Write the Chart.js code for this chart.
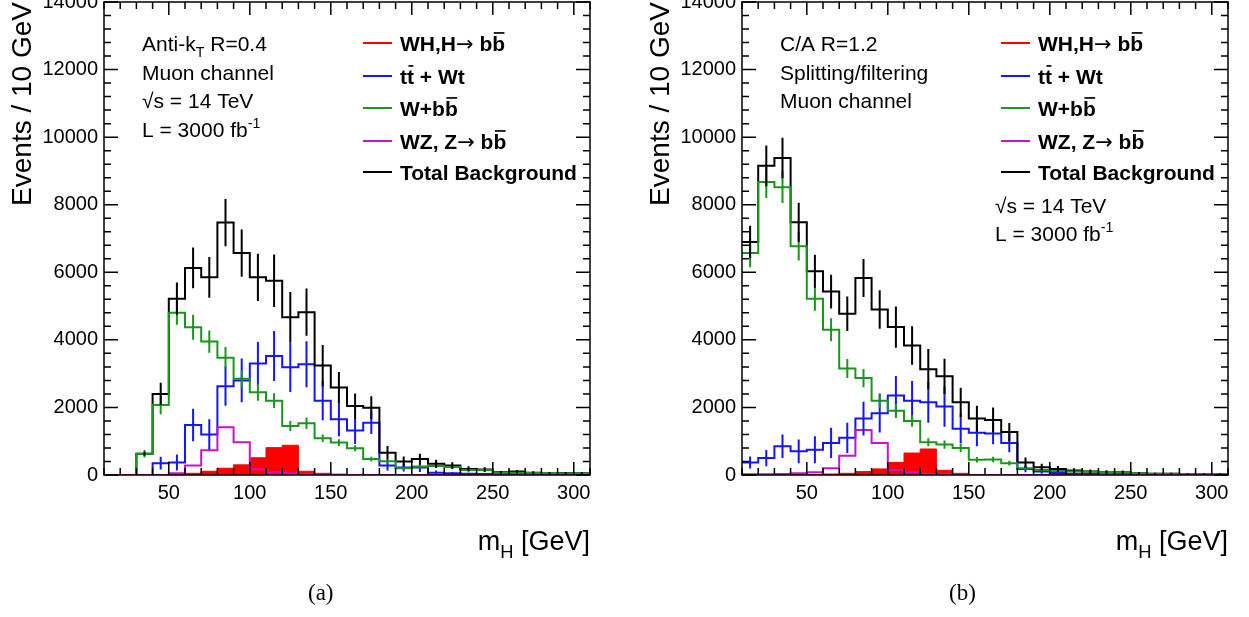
<!DOCTYPE html>
<html>
<head>
<meta charset="utf-8">
<script src="https://cdn.jsdelivr.net/npm/chart.js@4.4.1/dist/chart.umd.min.js"></script>
<style>
body { margin:0; background:#fff; width:1249px; height:617px; overflow:hidden; position:relative; }
canvas { position:absolute; top:0; }
#ca { left:0; }
#cb { left:638px; }
.cap { position:absolute; top:580px; font-family:'Liberation Serif', serif; font-size:23px; color:#000; }
</style>
</head>
<body>
<canvas id="ca" width="640" height="617" style="width:640px;height:617px"></canvas>
<canvas id="cb" width="611" height="617" style="width:611px;height:617px"></canvas>
<div class="cap" style="left:308px">(a)</div>
<div class="cap" style="left:949px">(b)</div>
<script>
const FONT = "'Liberation Sans', Arial, sans-serif";

// bin low edges, 10 GeV bins
const binLow = [10, 20, 30, 40, 50, 60, 70, 80, 90, 100, 110, 120, 130, 140, 150,
                160, 170, 180, 190, 200, 210, 220, 230, 240, 250, 260, 270, 280, 290, 300];
const binWidth = 10;
const xTicks = [50, 100, 150, 200, 250, 300];
const yTicks = [0, 2000, 4000, 6000, 8000, 10000, 12000, 14000];

// (a) Anti-kT R=0.4
const aSignal = [0, 0, 0, 0, 40, 50, 110, 200, 300, 510, 810, 880, 110, 50, 20, 10, 0, 0, 0, 0, 0, 0, 0, 0, 0, 0, 0, 0, 0, 0];
const aTop    = [0, 0, 0, 350, 370, 1480, 1200, 2630, 2800, 3300, 3520, 3190, 3280, 2200, 1650, 1320, 1550, 280, 220, 220, 70, 50, 40, 30, 20, 40, 20, 10, 10, 10];
const aWbb    = [0, 0, 630, 2070, 4800, 4370, 3950, 3470, 2850, 2450, 2200, 1450, 1530, 1090, 960, 790, 470, 410, 200, 250, 270, 240, 150, 150, 70, 70, 60, 60, 50, 50];
const aWZ     = [0, 0, 0, 0, 50, 280, 730, 1410, 970, 170, 80, 50, 30, 20, 10, 0, 0, 0, 0, 0, 0, 0, 0, 0, 0, 0, 0, 0, 0, 0];
const aTotal  = [0, 0, 630, 2400, 5220, 6130, 5850, 7470, 6570, 5850, 5750, 4670, 4820, 3240, 2590, 2040, 1990, 660, 400, 470, 330, 280, 180, 160, 80, 100, 70, 60, 60, 50];
const aTotalErr = [0, 0, 60, 330, 480, 600, 600, 700, 700, 700, 780, 750, 700, 610, 460, 370, 340, 200, 150, 160, 120, 100, 80, 70, 40, 50, 40, 30, 30, 30];
const aTopErr   = [0, 0, 0, 190, 240, 480, 450, 580, 650, 640, 740, 730, 680, 580, 500, 400, 340, 150, 120, 130, 60, 40, 30, 30, 20, 30, 20, 10, 10, 10];
const aWbbErr   = [0, 0, 110, 270, 350, 370, 330, 320, 250, 250, 220, 150, 170, 110, 100, 90, 70, 70, 50, 50, 50, 50, 40, 40, 30, 30, 30, 30, 20, 20];

// (b) C/A R=1.2 splitting/filtering
const bSignal = [0, 0, 0, 10, 20, 30, 50, 100, 180, 370, 650, 770, 140, 50, 10, 0, 0, 0, 0, 0, 0, 0, 0, 0, 0, 0, 0, 0, 0, 0];
const bTop    = [370, 500, 850, 700, 750, 950, 1100, 1670, 1830, 2350, 2200, 2150, 2030, 1370, 1250, 1230, 950, 180, 100, 60, 40, 30, 20, 20, 10, 10, 10, 0, 0, 0];
const bWbb    = [6570, 8670, 8520, 6770, 5220, 4300, 3150, 2870, 2200, 1900, 1600, 970, 900, 800, 450, 460, 350, 200, 150, 120, 100, 100, 90, 80, 50, 40, 40, 30, 30, 30];
const bWZ     = [20, 20, 30, 50, 80, 200, 570, 1330, 950, 150, 80, 30, 20, 10, 0, 0, 0, 0, 0, 0, 0, 0, 0, 0, 0, 0, 0, 0, 0, 0];
const bTotal  = [6900, 9150, 9380, 7480, 6030, 5430, 4770, 5830, 4900, 4380, 3830, 3130, 2920, 2150, 1670, 1630, 1270, 370, 230, 180, 130, 100, 90, 80, 50, 40, 40, 30, 30, 30];
const bTotalErr = [480, 600, 600, 580, 490, 500, 510, 560, 570, 610, 570, 600, 520, 430, 380, 370, 270, 150, 100, 90, 70, 60, 50, 50, 30, 30, 30, 20, 20, 20];
const bTopErr   = [180, 240, 350, 350, 400, 450, 450, 500, 570, 580, 580, 600, 600, 440, 400, 320, 280, 100, 60, 40, 30, 20, 20, 20, 10, 10, 10, 0, 0, 0];
const bWbbErr   = [420, 470, 470, 420, 360, 340, 280, 270, 220, 210, 170, 120, 120, 120, 80, 80, 70, 50, 40, 40, 30, 30, 30, 30, 20, 20, 20, 20, 20, 20];

const colors = { signal: '#ff0000', top: '#1414ff', wbb: '#1a961a', wz: '#cc11cc', total: '#000000' };

const ARROW = {t: '\u2192', w: 'normal', f: "'DejaVu Sans', sans-serif"};
const legendParts = [
  [{t: 'WH,H'}, ARROW, {t: ' b'}, {t: 'b', over: true}],
  [{t: 't'}, {t: 't', over: true}, {t: ' + Wt'}],
  [{t: 'W+b'}, {t: 'b', over: true}],
  [{t: 'WZ, Z'}, ARROW, {t: ' b'}, {t: 'b', over: true}],
  [{t: 'Total Background'}]
];

function toPoints(values) {
  const pts = binLow.map((x, i) => ({x: x, y: values[i]}));
  pts.push({x: binLow[binLow.length - 1] + binWidth, y: values[values.length - 1]});
  return pts;
}

function hist(values, color, extra) {
  return Object.assign({
    data: toPoints(values),
    borderColor: color,
    backgroundColor: color,
    borderWidth: 2,
    pointRadius: 0,
    stepped: true,
    fill: false
  }, extra);
}

function drawRich(ctx, x, y, parts, size, weight, draw) {
  let cx = x;
  parts.forEach(p => {
    const small = p.sub || p.sup;
    const s = small ? size * 0.68 : size;
    ctx.font = (p.w || weight) + ' ' + s + 'px ' + (p.f || FONT);
    const dy = p.sub ? size * 0.3 : (p.sup ? -size * 0.45 : 0);
    const w = ctx.measureText(p.t).width;
    if (draw) {
      ctx.fillText(p.t, cx, y + dy);
      if (p.over) {
        ctx.beginPath();
        ctx.lineWidth = size * 0.08;
        ctx.moveTo(cx + size * 0.07, y - size * 0.86);
        ctx.lineTo(cx + w - size * 0.03, y - size * 0.86);
        ctx.stroke();
      }
    }
    cx += w;
  });
  return cx - x;
}

// ROOT-like frame with inward ticks
const frameTicks = {
  id: 'frameTicks',
  afterDraw(chart) {
    const {ctx, chartArea: a, scales: {x, y}} = chart;
    ctx.save();
    ctx.strokeStyle = '#000';
    ctx.lineWidth = 1.5;
    ctx.strokeRect(a.left, a.top, a.right - a.left, a.bottom - a.top);
    ctx.beginPath();
    for (let v = x.min; v <= x.max; v += 10) {
      const px = x.getPixelForValue(v);
      const len = v % 50 === 0 ? 13 : 7;
      ctx.moveTo(px, a.bottom); ctx.lineTo(px, a.bottom - len);
      ctx.moveTo(px, a.top); ctx.lineTo(px, a.top + len);
    }
    for (let v = y.min; v <= y.max; v += 400) {
      const py = y.getPixelForValue(v);
      const len = v % 2000 === 0 ? 14 : 7;
      ctx.moveTo(a.left, py); ctx.lineTo(a.left + len, py);
      ctx.moveTo(a.right, py); ctx.lineTo(a.right - len, py);
    }
    ctx.stroke();
    ctx.restore();
  }
};

// vertical error bars at bin centres
const errorBars = {
  id: 'errorBars',
  afterDatasetsDraw(chart) {
    const {ctx, chartArea: a, scales: {x, y}} = chart;
    ctx.save();
    ctx.beginPath();
    ctx.rect(a.left, a.top, a.right - a.left, a.bottom - a.top);
    ctx.clip();
    ctx.lineWidth = 2;
    chart.data.datasets.forEach(ds => {
      if (!ds.errBars) return;
      ctx.strokeStyle = ds.borderColor;
      ctx.beginPath();
      ds.errBars.forEach((e, i) => {
        if (!e) return;
        const v = ds.data[i].y;
        const px = x.getPixelForValue(binLow[i] + binWidth / 2);
        ctx.moveTo(px, y.getPixelForValue(v - e));
        ctx.lineTo(px, y.getPixelForValue(v + e));
      });
      ctx.stroke();
    });
    ctx.restore();
  }
};

function textPlugin(notes) {
  return {
    id: 'texts',
    afterDraw(chart) {
      const {ctx, chartArea: a} = chart;
      ctx.save();
      ctx.fillStyle = '#000';
      ctx.strokeStyle = '#000';
      ctx.textBaseline = 'alphabetic';
      ctx.textAlign = 'left';

      notes.forEach(n => drawRich(ctx, a.left + n.dx, n.y, n.parts, 21, 'normal', true));

      const rows = [43, 76, 108, 141, 172];
      chart.data.datasets.forEach((ds, i) => {
        const cy = rows[i];
        ctx.beginPath();
        ctx.strokeStyle = ds.borderColor;
        ctx.lineWidth = 2;
        ctx.moveTo(a.left + 259, cy);
        ctx.lineTo(a.left + 288, cy);
        ctx.stroke();
        ctx.strokeStyle = '#000';
        drawRich(ctx, a.left + 296, cy + 8, legendParts[i], 21, 'bold', true);
      });

      // x title, right aligned
      const xt = [{t: 'm'}, {t: 'H', sub: true}, {t: ' [GeV]'}];
      const w = drawRich(ctx, 0, 0, xt, 27, 'normal', false);
      drawRich(ctx, a.right - w, 550, xt, 27, 'normal', true);

      // y title, rotated, anchored at top of frame
      ctx.translate(23, a.top);
      ctx.rotate(-Math.PI / 2);
      ctx.font = '28px ' + FONT;
      ctx.textAlign = 'right';
      ctx.textBaseline = 'middle';
      ctx.fillText('Events / 10 GeV', 0, 0);
      ctx.restore();
    }
  };
}

function makePanel(id, padRight, s, notes) {
  const tickFont = {family: FONT, size: 20};
  new Chart(document.getElementById(id), {
    type: 'line',
    data: {
      datasets: [
        hist(s.signal, colors.signal, {fill: 'origin', borderWidth: 1, order: 4}),
        hist(s.top, colors.top, {errBars: s.topErr, order: 3}),
        hist(s.wbb, colors.wbb, {errBars: s.wbbErr, order: 1}),
        hist(s.wz, colors.wz, {order: 0}),
        hist(s.total, colors.total, {errBars: s.totalErr, order: 2})
      ]
    },
    options: {
      responsive: false,
      animation: false,
      layout: {padding: {left: 0, right: padRight, top: 2, bottom: 0}},
      plugins: {legend: {display: false}, tooltip: {enabled: false}},
      scales: {
        x: {
          type: 'linear', min: 10, max: 310,
          grid: {display: false, drawTicks: false},
          border: {display: false},
          afterBuildTicks: sc => { sc.ticks = xTicks.map(v => ({value: v})); },
          afterFit: sc => { sc.height = 142; sc.paddingLeft = 0; sc.paddingRight = 0; },
          ticks: {font: tickFont, color: '#000', padding: 6, maxRotation: 0, autoSkip: false,
                  callback: v => String(v)}
        },
        y: {
          type: 'linear', min: 0, max: 14000,
          grid: {display: false, drawTicks: false},
          border: {display: false},
          afterBuildTicks: sc => { sc.ticks = yTicks.map(v => ({value: v})); },
          afterFit: sc => { sc.width = 104; sc.paddingTop = 0; sc.paddingBottom = 0; },
          ticks: {font: tickFont, color: '#000', padding: 6, autoSkip: false,
                  callback: v => String(v)}
        }
      }
    },
    plugins: [errorBars, frameTicks, textPlugin(notes)]
  });
}

makePanel('ca', 50,
  {signal: aSignal, top: aTop, wbb: aWbb, wz: aWZ, total: aTotal,
   topErr: aTopErr, wbbErr: aWbbErr, totalErr: aTotalErr},
  [
    {dx: 38, y: 51, parts: [{t: 'Anti-k'}, {t: 'T', sub: true}, {t: ' R=0.4'}]},
    {dx: 38, y: 80, parts: [{t: 'Muon channel'}]},
    {dx: 38, y: 108, parts: [{t: '\u221As = 14 TeV'}]},
    {dx: 38, y: 137, parts: [{t: 'L = 3000 fb'}, {t: '-1', sup: true}]}
  ]);

makePanel('cb', 21,
  {signal: bSignal, top: bTop, wbb: bWbb, wz: bWZ, total: bTotal,
   topErr: bTopErr, wbbErr: bWbbErr, totalErr: bTotalErr},
  [
    {dx: 38, y: 51, parts: [{t: 'C/A R=1.2'}]},
    {dx: 38, y: 80, parts: [{t: 'Splitting/filtering'}]},
    {dx: 38, y: 108, parts: [{t: 'Muon channel'}]},
    {dx: 253, y: 213, parts: [{t: '\u221As = 14 TeV'}]},
    {dx: 253, y: 241, parts: [{t: 'L = 3000 fb'}, {t: '-1', sup: true}]}
  ]);
</script>
</body>
</html>
